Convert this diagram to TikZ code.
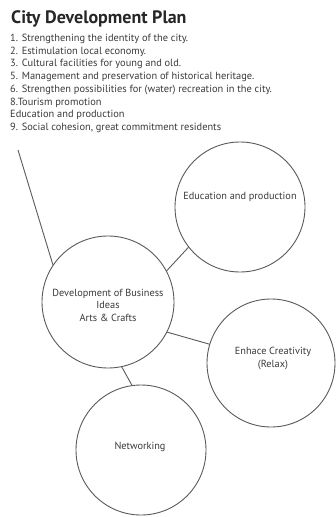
\documentclass[tikz,border=0pt]{standalone}
\usepackage{fontspec}
\setmainfont{PT Sans}
\definecolor{linegray}{HTML}{5A5A5A}
\definecolor{textgray}{HTML}{3A3A3A}
\tikzset{
  bubble/.style={circle, draw=linegray, line width=0.9pt, inner sep=0pt},
  listline/.style={anchor=base west, inner sep=0pt, text=textgray, font=\fontsize{10.4}{12}\selectfont},
  bubbletext/.style={inner sep=0pt, text=textgray, align=center, font=\fontsize{10.3}{12.5}\selectfont},
  link/.style={draw=linegray, line width=0.9pt}
}
\begin{document}
\begin{tikzpicture}[x=1pt,y=-1pt]
\useasboundingbox[fill=white] (0,0) rectangle (336,517);
% title
\node[anchor=base west, inner sep=0pt, text=black!85, font=\fontsize{18}{20}\selectfont\bfseries] (title) at (11,23) {City Development Plan};
% list
\node[listline] (l1) at (10,41.5) {1. Strengthening the identity of the city.};
\node[listline] (l2) at (10,54.2) {2. Estimulation local economy.};
\node[listline] (l3) at (10,66.9) {3. Cultural facilities for young and old.};
\node[listline] (l4) at (10,79.6) {5. Management and preservation of historical heritage.};
\node[listline] (l5) at (10,92.3) {6. Strengthen possibilities for (water) recreation in the city.};
\node[listline] (l6) at (10,105.0) {8.Tourism promotion};
\node[listline] (l7) at (10,117.7) {Education and production};
\node[listline] (l8) at (10,130.4) {9. Social cohesion, great commitment residents};
% circles
\node[bubble, minimum size=130pt] (edu) at (240,207) {};
\node[bubble, minimum size=132pt] (dev) at (108,302) {};
\node[bubble, minimum size=128pt] (enh) at (271,363) {};
\node[bubble, minimum size=130pt] (net) at (141,450) {};
% texts
\node[bubbletext] (tedu) at (240,197) {Education and production};
\node[bubbletext] (tdev) at (108,305) {Development of Business\\Ideas\\Arts \& Crafts};
\node[bubbletext] (tenh) at (273,358.5) {Enhace Creativity\\(Relax)};
\node[bubbletext] (tnet) at (140,447) {Networking};
% connectors
\coordinate (free) at (18,150);
\draw[link] (free) -- (dev.146.5);
\draw[link] (dev.28) -- (edu.218);
\draw[link] (dev.-27) -- (enh.163);
\draw[link] (dev.-78) -- (net.98);
\end{tikzpicture}
\end{document}
